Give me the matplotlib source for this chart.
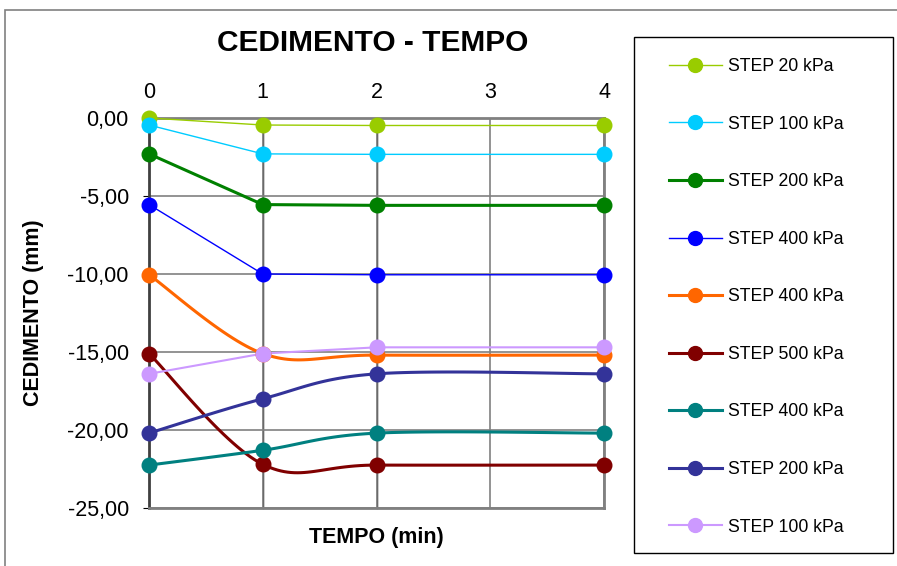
import numpy as np
import matplotlib
matplotlib.use("Agg")
import matplotlib.pyplot as plt
from matplotlib.patches import Rectangle

plt.rcParams["font.family"] = ["Liberation Sans", "DejaVu Sans"]

tempo = [0, 1, 2, 4]
nomes = ["STEP 20 kPa", "STEP 100 kPa", "STEP 200 kPa", "STEP 400 kPa", "STEP 400 kPa",
         "STEP 500 kPa", "STEP 400 kPa", "STEP 200 kPa", "STEP 100 kPa"]
step20a = [0.0, -0.45, -0.48, -0.48]
step100a = [-0.45, -2.3, -2.33, -2.33]
step200a = [-2.3, -5.55, -5.6, -5.6]
step400a = [-5.55, -10.0, -10.05, -10.05]
step400b = [-10.05, -15.1, -15.2, -15.2]
step500 = [-15.1, -22.2, -22.25, -22.25]
step400c = [-22.25, -21.3, -20.2, -20.2]
step200b = [-20.2, -18.0, -16.4, -16.4]
step100b = [-16.4, -15.1, -14.7, -14.7]
series = [step20a, step100a, step200a, step400a, step400b, step500, step400c, step200b, step100b]
cores = ["#99cc00", "#00ccff", "#008000", "#0000ff", "#ff6600", "#800000", "#008080", "#333399", "#cc99ff"]
larguras = [1.0, 1.0, 2.2, 1.0, 2.2, 2.2, 2.2, 2.2, 1.5]
suave = [False, False, False, False, True, True, True, True, False]


def excel_smooth(x, y, n=30):
    # bezier igual ao "linha suavizada" do excel
    p = np.column_stack([x, y]).astype(float)
    pts = []
    for i in range(len(p) - 1):
        p0 = p[i - 1] if i > 0 else p[i]
        p3 = p[i + 2] if i + 2 < len(p) else p[i + 1]
        c1 = p[i] + (p[i + 1] - p0) / 6
        c2 = p[i + 1] - (p3 - p[i]) / 6
        t = np.linspace(0, 1, n)[:, None]
        b = (1 - t) ** 3 * p[i] + 3 * (1 - t) ** 2 * t * c1 + 3 * (1 - t) * t ** 2 * c2 + t ** 3 * p[i + 1]
        pts.append(b)
    pts = np.vstack(pts)
    return pts[:, 0], pts[:, 1]


fig = plt.figure(figsize=(8.97, 5.66), dpi=100)
ax = fig.add_axes([149 / 897, 1 - 508 / 566, 455 / 897, 390 / 566])

# moldura externa e caixa da legenda
fig.patches.append(Rectangle((5 / 897, -0.1), 1.2, (556 / 566) + 0.1, transform=fig.transFigure,
                             fill=False, edgecolor="#808080", linewidth=1.2))
fig.patches.append(Rectangle((634 / 897, 1 - 553 / 566), 259 / 897, 516 / 566, transform=fig.transFigure,
                             fill=False, edgecolor="black", linewidth=1))

handles = []
for s, nome, c, lw, sm in zip(series, nomes, cores, larguras, suave):
    if sm:
        xs, ys = excel_smooth(tempo, s)
    else:
        xs, ys = tempo, s
    ax.plot(xs, ys, color=c, linewidth=lw, zorder=3)
    ax.plot(tempo, s, "o", color=c, markersize=10.5, zorder=4)
    h, = ax.plot([], [], color=c, linewidth=lw, marker="o", markersize=10, label=nome)
    handles.append(h)

ax.set_xlim(0, 4)
ax.set_ylim(-25, 0)
ax.set_xticks([0, 1, 2, 3, 4])
ax.set_yticks([0, -5, -10, -15, -20, -25])
ax.set_yticklabels([f"{v:.2f}".replace(".", ",") for v in [0, -5, -10, -15, -20, -25]])
ax.xaxis.tick_top()
ax.tick_params(axis="x", length=0, labelsize=15.5, pad=11)
ax.tick_params(axis="y", length=4.5, labelsize=15.5, direction="out", pad=10)
ax.grid(True, color="#808080", linewidth=1.2)
for x in [1, 2]:
    ax.axvline(x, color="black", linewidth=1, zorder=1)
for lado in ["top", "right", "bottom"]:
    ax.spines[lado].set_color("#808080")
    ax.spines[lado].set_linewidth(2)
ax.spines["left"].set_color("#404040")
ax.spines["left"].set_linewidth(2)
for l in ax.lines:
    l.set_clip_on(False)

ax.set_xlabel("TEMPO (min)", fontsize=15.5, fontweight="bold", labelpad=14)
ax.set_ylabel("CEDIMENTO (mm)", fontsize=15.5, fontweight="bold", labelpad=17)
fig.text(373 / 897, 1 - 43 / 566, "CEDIMENTO - TEMPO", fontsize=21.5, fontweight="bold",
         ha="center", va="center")

leg = fig.legend(handles=handles, loc="upper left", bbox_to_anchor=(669 / 897, 1 - 58 / 566),
                 fontsize=12.7, frameon=False, labelspacing=2.3, handlelength=3.0,
                 borderpad=0, borderaxespad=0, handletextpad=0.35)

fig.savefig("out.png", dpi=100)
